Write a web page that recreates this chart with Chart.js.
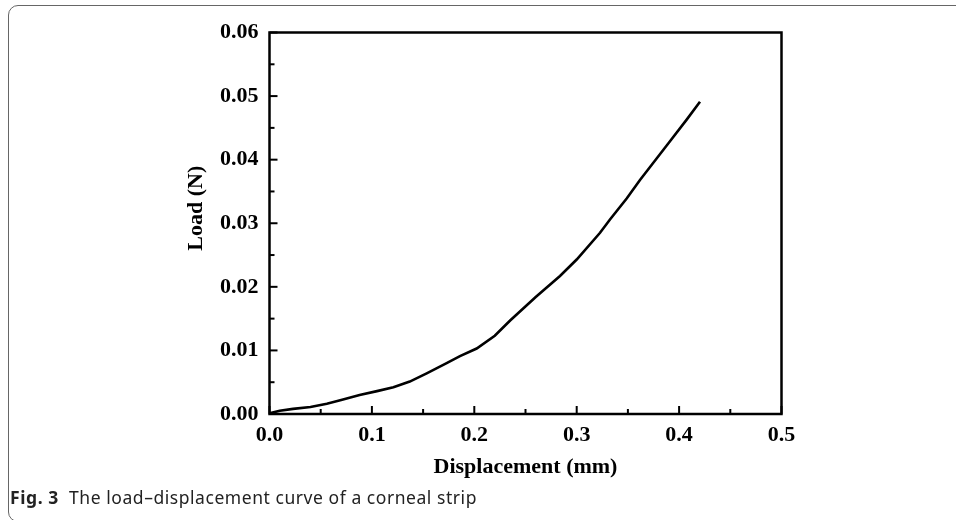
<!DOCTYPE html>
<html>
<head>
<meta charset="utf-8">
<script src="https://cdn.jsdelivr.net/npm/chart.js@4.4.1/dist/chart.umd.min.js"></script>
<style>
  html, body { margin: 0; padding: 0; width: 956px; height: 520px; overflow: hidden; background: #fff; }
  #frame { position: absolute; left: 8px; top: 5px; width: 1200px; height: 517px; box-sizing: border-box;
           border: 1.5px solid #666; border-radius: 10px; }
  #wrap { position: absolute; left: 0; top: 0; width: 956px; height: 520px; }
  #caption { position: absolute; left: 10px; top: 485px; font-family: "Noto Sans", sans-serif; font-size: 17.5px;
             letter-spacing: 0.55px; color: #222; white-space: nowrap; }
  #caption b { font-weight: 700; margin-right: 5px; letter-spacing: 0.6px; }
</style>
</head>
<body>
<div id="frame"></div>
<div id="wrap"><canvas id="c" width="956" height="520"></canvas></div>
<div id="caption"><b>Fig. 3</b> The load–displacement curve of a corneal strip</div>
<script>
// Data
const displacement = [0, 0.01, 0.023, 0.04, 0.056, 0.07, 0.088, 0.105, 0.121, 0.137, 0.1535, 0.173, 0.186, 0.2023, 0.22, 0.235, 0.26, 0.2837, 0.3, 0.3228, 0.3325, 0.3488, 0.3618, 0.3911, 0.4074, 0.4204];
const load = [0.0001, 0.0005, 0.0008, 0.0011, 0.0016, 0.0022, 0.003, 0.0036, 0.0042, 0.0051, 0.0064, 0.008, 0.0091, 0.0103, 0.0123, 0.0147, 0.0184, 0.0217, 0.0243, 0.0285, 0.0306, 0.0339, 0.0368, 0.0429, 0.0463, 0.0491];
const xTitle = "Displacement (mm)";
const yTitle = "Load (N)";
const xRange = [0, 0.5];
const yRange = [0, 0.06];
const xStep = 0.1;
const yStep = 0.01;

const serif = '"Liberation Serif", "Times New Roman", serif';

const points = displacement.map((d, i) => ({ x: d, y: load[i] }));

const framePlugin = {
  id: 'framePlugin',
  afterDraw(chart) {
    const ctx = chart.ctx;
    const a = chart.chartArea;
    const xs = chart.scales.x, ys = chart.scales.y;
    ctx.save();
    ctx.strokeStyle = '#000';
    ctx.lineWidth = 2.5;
    ctx.strokeRect(a.left, a.top, a.right - a.left, a.bottom - a.top);
    // inward ticks: major at tick values, minor at midpoints
    ctx.lineWidth = 2;
    const xt = xs.ticks.map(t => t.value);
    xt.forEach((v, i) => {
      const p = xs.getPixelForValue(v);
      ctx.beginPath(); ctx.moveTo(p, a.bottom); ctx.lineTo(p, a.bottom - 8); ctx.stroke();
      if (i < xt.length - 1) {
        const m = xs.getPixelForValue((v + xt[i + 1]) / 2);
        ctx.beginPath(); ctx.moveTo(m, a.bottom); ctx.lineTo(m, a.bottom - 5); ctx.stroke();
      }
    });
    const yt = ys.ticks.map(t => t.value);
    yt.forEach((v, i) => {
      const p = ys.getPixelForValue(v);
      ctx.beginPath(); ctx.moveTo(a.left, p); ctx.lineTo(a.left + 8, p); ctx.stroke();
      if (i < yt.length - 1) {
        const m = ys.getPixelForValue((v + yt[i + 1]) / 2);
        ctx.beginPath(); ctx.moveTo(a.left, m); ctx.lineTo(a.left + 5, m); ctx.stroke();
      }
    });
    // y axis title
    ctx.fillStyle = '#000';
    ctx.font = 'bold 22px ' + serif;
    ctx.textAlign = 'center';
    ctx.textBaseline = 'middle';
    ctx.translate(a.left - 73, (a.top + a.bottom) / 2 - 15);
    ctx.rotate(-Math.PI / 2);
    ctx.fillText(yTitle, 0, 0);
    ctx.restore();
  }
};

new Chart(document.getElementById('c'), {
  type: 'scatter',
  data: {
    datasets: [{
      data: points,
      showLine: true,
      borderColor: '#000',
      borderWidth: 2.6,
      pointRadius: 0,
      tension: 0,
      fill: false
    }]
  },
  options: {
    responsive: false,
    animation: false,
    events: [],
    layout: { padding: { left: 179.5, right: 174.5, top: 32.5, bottom: 36 } },
    plugins: { legend: { display: false }, tooltip: { enabled: false } },
    scales: {
      x: {
        type: 'linear',
        min: xRange[0], max: xRange[1],
        grid: { display: false, drawTicks: false },
        border: { display: false },
        ticks: {
          stepSize: xStep,
          color: '#000',
          padding: 8,
          font: { family: serif, size: 22, weight: 'bold' },
          callback: v => v.toFixed(1)
        },
        title: {
          display: true, text: xTitle, color: '#000',
          font: { family: serif, size: 22, weight: 'bold' },
          padding: { top: 0, bottom: 3 }
        },
        afterFit: s => { s.height = 70; }
      },
      y: {
        type: 'linear',
        min: yRange[0], max: yRange[1],
        grid: { display: false, drawTicks: false },
        border: { display: false },
        ticks: {
          stepSize: yStep,
          color: '#000',
          padding: 11,
          font: { family: serif, size: 22, weight: 'bold' },
          callback: v => v.toFixed(2)
        },
        afterFit: s => { s.width = 90; }
      }
    }
  },
  plugins: [framePlugin]
});
</script>
</body>
</html>
